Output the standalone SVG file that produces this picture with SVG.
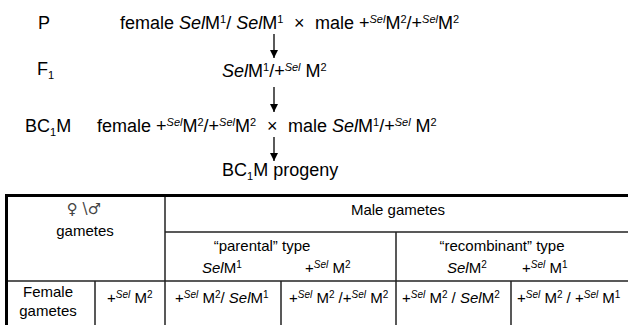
<svg xmlns="http://www.w3.org/2000/svg" width="628" height="325" viewBox="0 0 628 325">
<style>
text{font-family:"Liberation Sans","DejaVu Sans",Arial,sans-serif;fill:#000}
.big{font-size:18px}
.tb{font-size:15px}
.i{font-style:italic}
.sup{font-size:11px;baseline-shift:6px}
.supi{font-size:11px;baseline-shift:6px;font-style:italic}
.sub{font-size:11px;baseline-shift:-4px}
.tsup{font-size:10px;baseline-shift:5px}
.tsupi{font-size:10px;baseline-shift:5px;font-style:italic}
.sym{font-family:"DejaVu Sans",sans-serif;font-size:15px;fill:#444}
.thin{stroke:#222;stroke-width:1.5;fill:none}
.thick{stroke:#000;stroke-width:3;fill:none}
.arr{stroke:#000;stroke-width:1.3;fill:none;marker-end:url(#ah)}
</style>
<defs>
<marker id="ah" viewBox="0 0 10 10" refX="10" refY="5" markerWidth="8" markerHeight="8" markerUnits="userSpaceOnUse" orient="auto">
<path d="M0,0 L10,5 L0,10 z" fill="#000"/>
</marker>
</defs>
<rect width="628" height="325" fill="#fff"/>

<g id="labels">
<text class="big" x="38" y="29">P</text>
<text class="big" x="37" y="75">F<tspan class="sub">1</tspan></text>
<text class="big" x="25" y="132">BC<tspan class="sub">1</tspan>M</text>
</g>

<g id="node-P">
<text class="big" x="120" y="29">female <tspan class="i">Sel</tspan>M<tspan class="sup">1</tspan>/ <tspan class="i">Sel</tspan>M<tspan class="sup">1</tspan></text>
<text class="big" x="294" y="29">×</text>
<text class="big" x="315" y="29">male +<tspan class="supi">Sel</tspan>M<tspan class="sup">2</tspan>/+<tspan class="supi">Sel</tspan>M<tspan class="sup">2</tspan></text>
</g>

<g id="node-F1">
<text class="big" x="222" y="77"><tspan class="i">Sel</tspan>M<tspan class="sup">1</tspan>/+<tspan class="supi">Sel</tspan> M<tspan class="sup">2</tspan></text>
</g>

<g id="node-BC1M">
<text class="big" x="97" y="132">female +<tspan class="supi">Sel</tspan>M<tspan class="sup">2</tspan>/+<tspan class="supi">Sel</tspan>M<tspan class="sup">2</tspan></text>
<text class="big" x="267" y="132">×</text>
<text class="big" x="288" y="132">male <tspan class="i">Sel</tspan>M<tspan class="sup">1</tspan>/+<tspan class="supi">Sel</tspan> M<tspan class="sup">2</tspan></text>
</g>

<g id="node-progeny">
<text class="big" x="222" y="176">BC<tspan class="sub">1</tspan>M progeny</text>
</g>

<g id="connectors">
<line class="arr" x1="274" y1="34" x2="274" y2="58"/>
<line class="arr" x1="274" y1="87" x2="274" y2="112"/>
<line class="arr" x1="274" y1="137" x2="274" y2="161"/>
</g>

<g id="table">
<line class="thin" x1="165" y1="232" x2="628" y2="232"/>
<line class="thin" x1="5" y1="281" x2="628" y2="281"/>
<line class="thin" x1="165" y1="195" x2="165" y2="325"/>
<line class="thin" x1="396" y1="232" x2="396" y2="325"/>
<line class="thin" x1="95" y1="281" x2="95" y2="325"/>
<line class="thin" x1="281" y1="281" x2="281" y2="325"/>
<line class="thin" x1="511" y1="281" x2="511" y2="325"/>
<line class="thick" x1="5" y1="195.5" x2="628" y2="195.5"/>
<line class="thick" x1="6.5" y1="194" x2="6.5" y2="325"/>

<text class="sym" x="84" y="214" text-anchor="middle">♀ \♂</text>
<text class="tb" x="85" y="236" text-anchor="middle">gametes</text>
<text class="tb" x="398" y="215" text-anchor="middle">Male gametes</text>
<text class="tb" x="262" y="251" text-anchor="middle">“parental” type</text>
<text class="tb" x="502" y="251" text-anchor="middle">“recombinant” type</text>
<text class="tb" x="202" y="273"><tspan class="i">Sel</tspan>M<tspan class="tsup">1</tspan></text>
<text class="tb" x="305" y="273">+<tspan class="tsupi">Sel</tspan> M<tspan class="tsup">2</tspan></text>
<text class="tb" x="447" y="273"><tspan class="i">Sel</tspan>M<tspan class="tsup">2</tspan></text>
<text class="tb" x="522" y="273">+<tspan class="tsupi">Sel</tspan> M<tspan class="tsup">1</tspan></text>

<text class="tb" x="48" y="297" text-anchor="middle">Female</text>
<text class="tb" x="48" y="316" text-anchor="middle">gametes</text>
<text class="tb" x="107" y="303">+<tspan class="tsupi">Sel</tspan> M<tspan class="tsup">2</tspan></text>
<text class="tb" x="175" y="303">+<tspan class="tsupi">Sel</tspan> M<tspan class="tsup">2</tspan>/ <tspan class="i">Sel</tspan>M<tspan class="tsup">1</tspan></text>
<text class="tb" x="289" y="303">+<tspan class="tsupi">Sel</tspan> M<tspan class="tsup">2</tspan> /+<tspan class="tsupi">Sel</tspan> M<tspan class="tsup">2</tspan></text>
<text class="tb" x="402" y="303">+<tspan class="tsupi">Sel</tspan> M<tspan class="tsup">2</tspan> / <tspan class="i">Sel</tspan>M<tspan class="tsup">2</tspan></text>
<text class="tb" x="517" y="303">+<tspan class="tsupi">Sel</tspan> M<tspan class="tsup">2</tspan> / +<tspan class="tsupi">Sel</tspan> M<tspan class="tsup">1</tspan></text>
</g>
</svg>
